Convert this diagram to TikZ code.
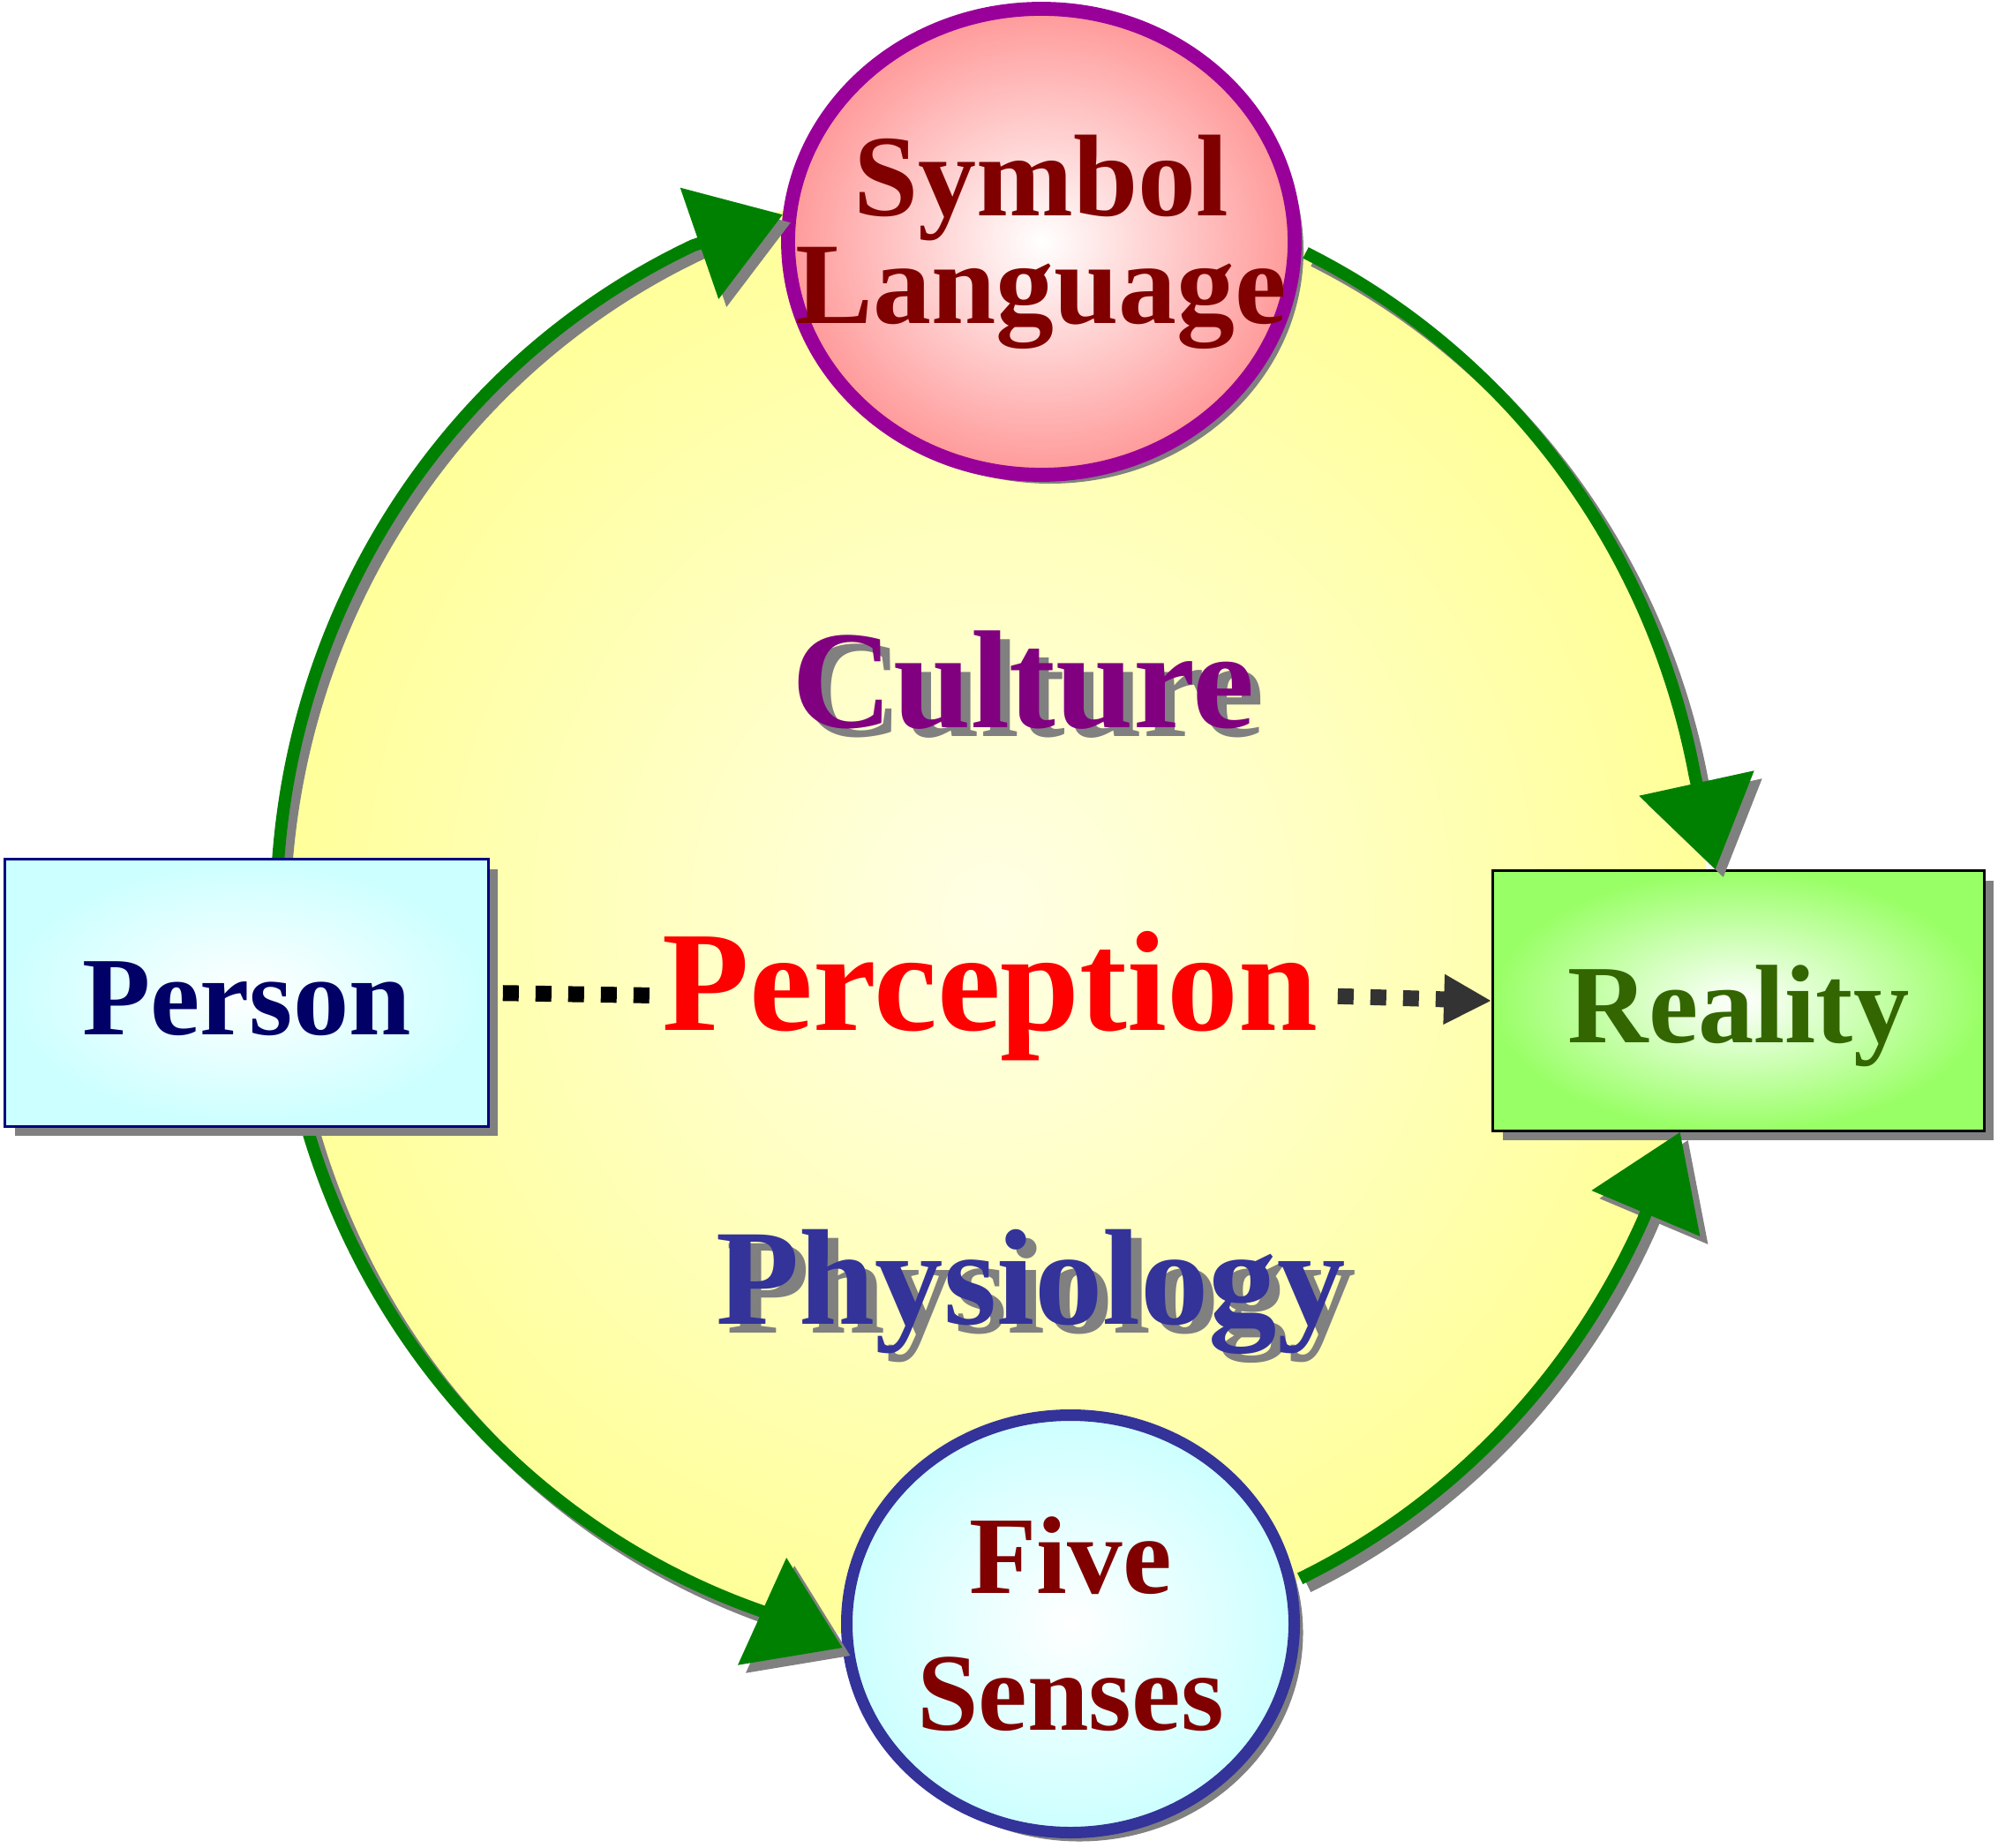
\documentclass[tikz,border=0pt]{standalone}
\usepackage{fontspec}
\setmainfont{Liberation Serif}
\usetikzlibrary{positioning,arrows.meta,shapes.geometric,shadows}
\definecolor{ringgreen}{HTML}{008000}
\definecolor{fieldcore}{HTML}{FFFFE6}
\definecolor{fieldyellow}{HTML}{FFFF99}
\definecolor{symbolpink}{HTML}{FF9999}
\definecolor{symbolrim}{HTML}{990099}
\definecolor{sensecyan}{HTML}{CCFFFF}
\definecolor{senserim}{HTML}{333399}
\definecolor{personrim}{HTML}{000080}
\definecolor{realitygreen}{HTML}{99FF66}
\definecolor{maroontext}{HTML}{800000}
\definecolor{navytext}{HTML}{000066}
\definecolor{olivetext}{HTML}{336600}
\definecolor{culturepurple}{HTML}{800080}
\definecolor{physioblue}{HTML}{333399}
\definecolor{shadowgray}{HTML}{808080}
\definecolor{dotgray}{HTML}{333333}

\begin{document}
\begin{tikzpicture}[box/.style={draw,line width=0.9pt,inner sep=0pt,text height=0.95cm,text depth=0pt,
font=\bfseries\fontsize{36}{40}\selectfont,
drop shadow={shadow xshift=0.11cm,shadow yshift=-0.11cm,fill=shadowgray,opacity=1}},
orb/.style={ellipse,inner sep=0pt,
drop shadow={shadow xshift=0.1cm,shadow yshift=-0.1cm,fill=shadowgray,opacity=1}},
orbtext/.style={align=center,text=maroontext},
word/.style={inner sep=0pt,anchor=base},
loopline/.style={ringgreen,line width=0.14cm,-{Triangle[length=1cm,width=1.3cm]},
preaction={draw=shadowgray,line width=0.14cm,transform canvas={shift={(0.09,-0.09)}}}},
dotline/.style={line width=0.18cm,dash pattern=on 0.18cm off 0.19cm}]
\useasboundingbox (0,0) rectangle (22.64,-20.94);
% yellow field behind everything
\coordinate (ring) at (11.24,-10.36);
\shade[inner color=fieldcore,outer color=fieldyellow] (ring) ellipse[x radius=8.11,y radius=8.34];
% nodes the ring runs into
\node[box,draw=black,minimum width=5.565cm,minimum height=2.945cm,
inner color=white,outer color=realitygreen,text=olivetext] (reality) at (19.70,-11.34) {Reality};
\node[orb,draw=symbolrim,line width=4.5pt,minimum width=5.74cm,minimum height=5.28cm,
inner color=white,outer color=symbolpink,
label={[orbtext,font=\bfseries\fontsize{37.5}{34.7}\selectfont]center:Symbol\\Language}] (symbol) at (11.80,-2.74) {};
\node[orb,draw=senserim,line width=3.7pt,minimum width=5.07cm,minimum height=4.73cm,
inner color=white,outer color=sensecyan,
label={[orbtext,font=\bfseries\fontsize{35.6}{44.1}\selectfont]center:Five\\Senses}] (senses) at (12.13,-18.40) {};
% green ring, four arcs
\coordinate (ringPerN) at ([shift={(178:8.11 and 8.34)}]ring);
\coordinate (ringSymE) at ([shift={(64:8.11 and 8.34)}]ring);
\coordinate (ringPerS) at ([shift={(194:8.11 and 8.34)}]ring);
\coordinate (ringSenE) at ([shift={(295.5:8.11 and 8.34)}]ring);
\draw[loopline] (ringPerN) arc[start angle=178,end angle=114.7,x radius=8.11,y radius=8.34] -- (symbol.174);
\draw[loopline] (ringSymE) arc[start angle=64,end angle=11,x radius=8.11,y radius=8.34] -- (reality.100);
\draw[loopline] (ringPerS) arc[start angle=194,end angle=251.2,x radius=8.11,y radius=8.34] -- (senses.186);
\draw[loopline] (ringSenE) arc[start angle=295.5,end angle=335.5,x radius=8.11,y radius=8.34] -- (reality.246);
% person box on top of the arc ends
\node[box,draw=personrim,minimum width=5.475cm,minimum height=3.025cm,
inner color=white,outer color=sensecyan,text=navytext] (person) at (2.795,-11.25) {Person};
% words in the field
\node[word,text=shadowgray,font=\bfseries\fontsize{45}{50}\selectfont] (cultureShade) at (11.71,-8.35) {Culture};
\node[word,text=culturepurple,font=\bfseries\fontsize{45}{50}\selectfont] (culture) at (11.60,-8.25) {Culture};
\node[word,text=red,font=\bfseries\fontsize{46}{50}\selectfont] (perception) at (11.22,-11.67) {Perception};
\node[word,text=shadowgray,font=\bfseries\fontsize{44}{50}\selectfont] (physiologyShade) at (11.80,-15.10) {Physiology};
\node[word,text=physioblue,font=\bfseries\fontsize{44}{50}\selectfont] (physiology) at (11.68,-15.00) {Physiology};
% dotted link
\draw[dotline,black,shorten <=0.15cm,shorten >=0.12cm] (person.east) -- (perception.west);
\draw[dotline,dotgray,-{Triangle[length=0.54cm,width=0.53cm]},shorten <=0.22cm] (perception.east) -- (reality.west);
\end{tikzpicture}
\end{document}
